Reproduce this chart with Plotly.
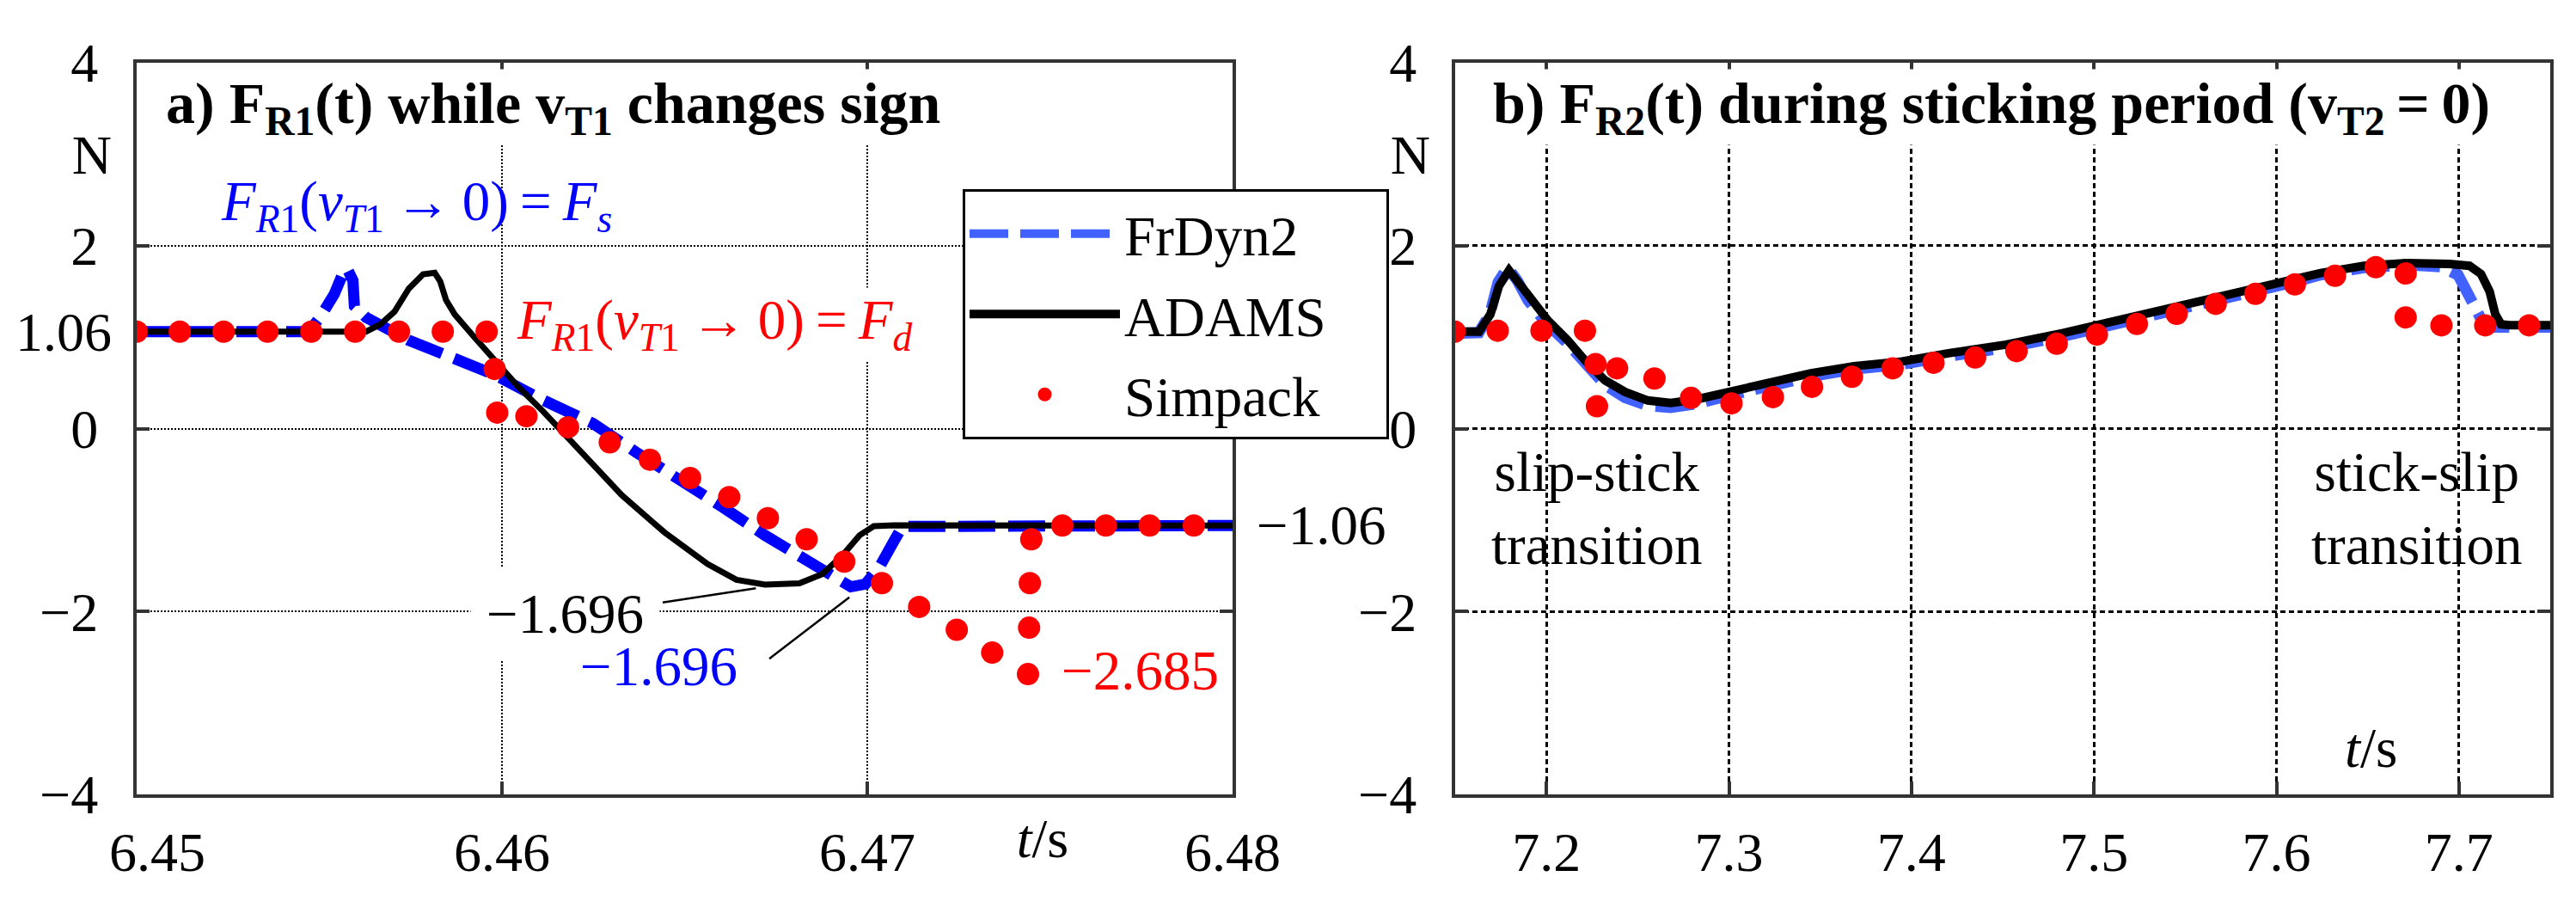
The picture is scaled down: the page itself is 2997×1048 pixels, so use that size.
import plotly.graph_objects as go

# ---- panel a) F_R1(t) while v_T1 changes sign ----
t_frdyn_a = [6.45, 6.45471, 6.45502, 6.45541, 6.45565, 6.45576, 6.45592, 6.45596, 6.45628, 6.45682,
             6.45745, 6.45863, 6.4598, 6.46098, 6.46208, 6.46249, 6.46367, 6.46485, 6.46602, 6.4672,
             6.46838, 6.46916, 6.46955, 6.46995, 6.47034, 6.47073, 6.47096, 6.48]
f_frdyn_a = [1.06, 1.06, 1.216, 1.47, 1.70, 1.75, 1.62, 1.34, 1.216, 1.09,
             0.965, 0.777, 0.589, 0.339, 0.15, 0.056, -0.258, -0.54, -0.853, -1.167,
             -1.449, -1.669, -1.73, -1.70, -1.51, -1.23, -1.07, -1.06]

t_adams_a = [6.45, 6.45628, 6.45667, 6.45706, 6.45745, 6.45784, 6.45816, 6.45831, 6.45847, 6.45871,
             6.45925, 6.4598, 6.46043, 6.46114, 6.46216, 6.46328, 6.46445, 6.46563, 6.46642, 6.4672,
             6.46814, 6.46877, 6.46932, 6.46979, 6.47018, 6.47073, 6.48]
f_adams_a = [1.06, 1.06, 1.138, 1.279, 1.53, 1.687, 1.703, 1.609, 1.405, 1.247,
             0.997, 0.746, 0.464, 0.182, -0.258, -0.728, -1.135, -1.481, -1.653, -1.706,
             -1.693, -1.59, -1.387, -1.167, -1.067, -1.057, -1.06]

t_simpack_a = [6.45, 6.45118, 6.45238, 6.45358, 6.45478, 6.45598, 6.45718, 6.45838, 6.45958, 6.4598,
               6.45987, 6.46067, 6.46181, 6.46295, 6.46405, 6.46515, 6.46622, 6.46728, 6.46834, 6.46937,
               6.4704, 6.47142, 6.47245, 6.47342, 6.4744, 6.47443, 6.47445, 6.47449, 6.47534, 6.47653,
               6.47773, 6.47894]
f_simpack_a = [1.06, 1.06, 1.06, 1.06, 1.06, 1.06, 1.06, 1.06, 1.06, 0.652,
               0.175, 0.135, 0.015, -0.15, -0.34, -0.54, -0.75, -0.98, -1.21, -1.455,
               -1.69, -1.95, -2.20, -2.45, -2.685, -2.177, -1.69, -1.21, -1.06, -1.06,
               -1.06, -1.06]

# ---- panel b) F_R2(t) during sticking period ----
t_frdyn_b = [7.15, 7.163, 7.169, 7.1735, 7.1787, 7.184, 7.19, 7.2, 7.2117, 7.2211,
             7.232, 7.243, 7.2556, 7.268, 7.282, 7.2995, 7.3215, 7.345, 7.3686, 7.3936,
             7.42, 7.4517, 7.483, 7.514, 7.546, 7.577, 7.609, 7.624, 7.648, 7.672,
             7.69, 7.6995, 7.705, 7.71, 7.7135, 7.72, 7.75]
f_frdyn_b = [1.04, 1.05, 1.25, 1.6, 1.76, 1.62, 1.40, 1.15, 0.93, 0.70,
             0.48, 0.34, 0.25, 0.23, 0.27, 0.36, 0.47, 0.57, 0.65, 0.70,
             0.79, 0.885, 1.01, 1.15, 1.29, 1.44, 1.60, 1.68, 1.76, 1.79,
             1.77, 1.68, 1.50, 1.28, 1.14, 1.11, 1.11]

t_adams_b = [7.15, 7.1631, 7.1693, 7.174, 7.1795, 7.185, 7.1913, 7.2007, 7.2117, 7.2211,
             7.2321, 7.2431, 7.2556, 7.2681, 7.2823, 7.2995, 7.3215, 7.345, 7.3686, 7.3936,
             7.4203, 7.4517, 7.4831, 7.5144, 7.5458, 7.5772, 7.6086, 7.6242, 7.6478, 7.6713,
             7.6948, 7.7058, 7.7121, 7.7168, 7.7199, 7.7231, 7.7278, 7.75]
f_adams_b = [1.06, 1.06, 1.25, 1.56, 1.73, 1.59, 1.40, 1.185, 0.965, 0.746,
             0.527, 0.40, 0.307, 0.28, 0.32, 0.40, 0.51, 0.605, 0.683, 0.73,
             0.824, 0.918, 1.044, 1.185, 1.326, 1.48, 1.62, 1.70, 1.78, 1.81,
             1.80, 1.78, 1.69, 1.50, 1.25, 1.14, 1.13, 1.13]

t_simpack_b = [7.1497, 7.1733, 7.1973, 7.2211, 7.2269, 7.2277, 7.2387, 7.2592, 7.2792, 7.3014,
               7.3241, 7.3455, 7.3674, 7.3897, 7.4121, 7.4349, 7.4576, 7.4796, 7.5016, 7.5235,
               7.5453, 7.5667, 7.5885, 7.6101, 7.6321, 7.6544, 7.6708, 7.6708, 7.6904, 7.7144,
               7.7384]
f_simpack_b = [1.06, 1.07, 1.07, 1.07, 0.706, 0.245, 0.659, 0.548, 0.335, 0.276,
               0.344, 0.457, 0.567, 0.659, 0.72, 0.777, 0.847, 0.928, 1.028, 1.144,
               1.254, 1.364, 1.473, 1.577, 1.671, 1.765, 1.696, 1.216, 1.129, 1.129,
               1.129]

y_ticks = [-4, -2, 0, 2, 4]
y_ticktext = ["\u22124", "\u22122", "0", "2", "4"]
xa_ticks = [6.45, 6.46, 6.47, 6.48]
xa_ticktext = ["\u00a0\u00a0\u00a06.45", "6.46", "6.47", "6.48"]
xb_ticks = [7.2, 7.3, 7.4, 7.5, 7.6, 7.7]
xb_ticktext = ["7.2", "7.3", "7.4", "7.5", "7.6", "7.7"]

FONT = "Liberation Serif"
BLUE_A = "rgb(0,0,255)"
BLUE_B = "rgb(66,98,255)"
RED = "rgb(255,0,0)"
TS = "\u2009"  # thin space
PAD = "\u00a0" * 4  # right padding inside the legend box

fig = go.Figure()

# panel a
fig.add_trace(go.Scatter(x=t_frdyn_a, y=f_frdyn_a, mode="lines", xaxis="x", yaxis="y",
                         line=dict(color=BLUE_A, width=13, dash="43px,15px"), showlegend=False))
fig.add_trace(go.Scatter(x=t_adams_a, y=f_adams_a, mode="lines", xaxis="x", yaxis="y",
                         line=dict(color="black", width=7), showlegend=False))
fig.add_trace(go.Scatter(x=t_simpack_a, y=f_simpack_a, mode="markers", xaxis="x", yaxis="y",
                         marker=dict(color=RED, size=26), showlegend=False))
# panel b
fig.add_trace(go.Scatter(x=t_frdyn_b, y=f_frdyn_b, mode="lines", xaxis="x2", yaxis="y2",
                         name="FrDyn2" + PAD, legendgroup="g1",
                         line=dict(color=BLUE_B, width=13, dash="45px,14px")))
fig.add_trace(go.Scatter(x=t_adams_b, y=f_adams_b, mode="lines", xaxis="x2", yaxis="y2",
                         name="ADAMS" + PAD, legendgroup="g2",
                         line=dict(color="black", width=10)))
fig.add_trace(go.Scatter(x=t_simpack_b, y=f_simpack_b, mode="markers", xaxis="x2", yaxis="y2",
                         name="Simpack" + PAD, legendgroup="g3",
                         marker=dict(color=RED, size=26)))
# empty traces so the extra label axes ("1.06", "N", "t/s") get drawn
for xa, ya in [("x", "y3"), ("x2", "y4"), ("x3", "y")]:
    fig.add_trace(go.Scatter(x=[None], y=[None], xaxis=xa, yaxis=ya, mode="lines",
                             showlegend=False, hoverinfo="skip"))

TICKFONT = dict(family=FONT, size=64, color="black")
frame = dict(showline=True, linecolor="#333", linewidth=4, mirror="ticks", ticks="inside",
             ticklen=15, tickwidth=4, tickcolor="#333", zeroline=False, automargin=False,
             tickfont=TICKFONT)
dom_a = [159 / 2997, 1434 / 2997]
dom_b = [1693 / 2997, 2967 / 2997]
dom_y = [1 - 924 / 1048, 1 - 73 / 1048]
extra = dict(showline=False, showgrid=False, zeroline=False, ticks="", automargin=False,
             tickmode="array", tickfont=TICKFONT)
XSTAND = 8
YSTAND = 28

fig.update_layout(
    width=2997, height=1048, margin=dict(l=0, r=0, t=0, b=0, autoexpand=False),
    paper_bgcolor="white", plot_bgcolor="white",
    font=dict(family=FONT, size=65, color="black"),
    xaxis=dict(frame, domain=dom_a, range=[6.45, 6.48], anchor="y", tickmode="array",
               tickvals=xa_ticks, ticktext=xa_ticktext, showgrid=True, gridcolor="black",
               gridwidth=2, griddash="2px,2px", ticklabelstandoff=XSTAND),
    yaxis=dict(frame, domain=dom_y, range=[-4, 4], anchor="x", tickmode="array",
               tickvals=y_ticks, ticktext=y_ticktext, showgrid=True, gridcolor="black",
               gridwidth=2, griddash="2px,2px", ticklabelstandoff=YSTAND),
    yaxis3=dict(extra, overlaying="y", anchor="x", side="left", range=[-4, 4],
                tickvals=[1.06, 3], ticktext=["1.06", "N"], ticklabelstandoff=YSTAND),
    xaxis3=dict(extra, overlaying="x", anchor="y", side="bottom", range=[6.45, 6.48],
                tickvals=[6.4748], ticktext=["<i>t</i>/s"], ticklabelstandoff=XSTAND),
    xaxis2=dict(frame, domain=dom_b, range=[7.15, 7.75], anchor="y2", tickmode="array",
                tickvals=xb_ticks, ticktext=xb_ticktext, showgrid=True, gridcolor="black",
                gridwidth=2.5, griddash="6px,4px", ticklabelstandoff=XSTAND),
    yaxis2=dict(frame, domain=dom_y, range=[-4, 4], anchor="x2", tickmode="array",
                tickvals=y_ticks, ticktext=y_ticktext, showgrid=True, gridcolor="black",
                gridwidth=2.5, griddash="6px,4px", ticklabelstandoff=YSTAND),
    yaxis4=dict(extra, overlaying="y2", anchor="x2", side="left", range=[-4, 4],
                tickvals=[3], ticktext=["N"], ticklabelstandoff=YSTAND),
    legend=dict(x=1120 / 2997, y=1 - 220 / 1048, xanchor="left", yanchor="top",
                bgcolor="white", bordercolor="black", borderwidth=3,
                font=dict(family=FONT, size=65, color="black"), itemwidth=175,
                tracegroupgap=6),
)

TITLEFONT = dict(family=FONT, size=68, color="black")
ann = [
    dict(x=6.45075, y=3.52, xref="x", yref="y", xanchor="left", font=TITLEFONT,
         text="<b>a) F<sub>R1</sub>(t) while v<sub>T1</sub> changes sign</b>", bgcolor="white"),
    dict(x=7.17, y=3.52, xref="x2", yref="y2", xanchor="left", font=TITLEFONT,
         text="<b>b) F<sub>R2</sub>(t) during sticking period (v<sub>T2</sub>" + TS + "=" + TS + "0)</b>",
         bgcolor="white"),
    dict(x=6.45226, y=2.44, xref="x", yref="y", xanchor="left", font=dict(color=BLUE_A),
         text="<i>F</i><sub><i>R</i>1</sub>(<i>v</i><sub><i>T</i>1</sub>" + TS + "\u2192" + TS + "0)"
              + TS + "=" + TS + "<i>F</i><sub><i>s</i></sub>"),
    dict(x=6.46036, y=1.14, xref="x", yref="y", xanchor="left", font=dict(color=RED), bgcolor="white",
         text="<i>F</i><sub><i>R</i>1</sub>(<i>v</i><sub><i>T</i>1</sub>" + TS + "\u2192" + TS + "0)"
              + TS + "=" + TS + "<i>F</i><sub><i>d</i></sub>"),
    dict(x=6.46433, y=-2.03, xref="x", yref="y", xanchor="right", text="\u22121.696",
         bgcolor="white", borderpad=18),
    dict(x=6.46209, y=-2.60, xref="x", yref="y", xanchor="left", text="\u22121.696",
         font=dict(color=BLUE_A)),
    dict(x=6.47526, y=-2.65, xref="x", yref="y", xanchor="left", text="\u22122.685",
         font=dict(color=RED)),
    dict(x=1460 / 2997, y=-1.06, xref="paper", yref="y", xanchor="left", text="\u22121.06"),
    dict(x=7.652, y=-3.49, xref="x2", yref="y2", text="<i>t</i>/s"),
    dict(x=7.2275, y=-0.87, xref="x2", yref="y2", text="slip-stick<br>transition"),
    dict(x=7.677, y=-0.87, xref="x2", yref="y2", text="stick-slip<br>transition"),
]
for a in ann:
    a.setdefault("showarrow", False)
    fig.add_annotation(**a)

# leader lines for the -1.696 labels
fig.add_shape(type="line", xref="x", yref="y", x0=6.4644, y0=-1.901, x1=6.46695, y1=-1.746,
              line=dict(color="black", width=2.5))
fig.add_shape(type="line", xref="x", yref="y", x0=6.46732, y0=-2.516, x1=6.46951, y1=-1.844,
              line=dict(color="black", width=2.5))

fig.write_html("out.html", config={"displayModeBar": False},
               post_script="document.body.style.margin='0';document.body.style.overflow='hidden';")
